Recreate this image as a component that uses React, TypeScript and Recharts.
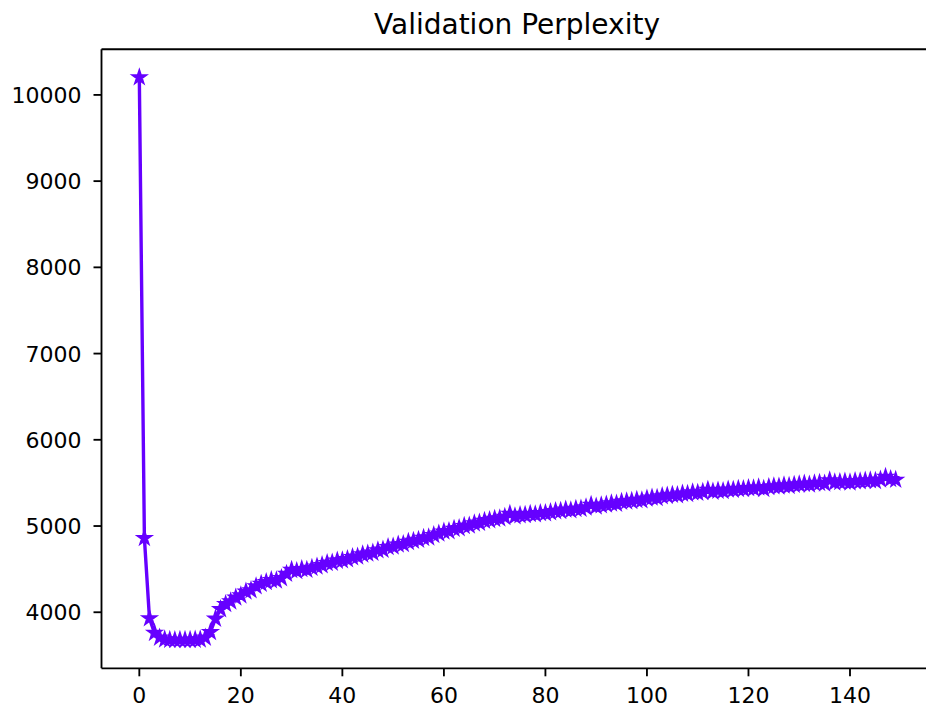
import React from 'react';
import { LineChart, Line, XAxis, YAxis, ReferenceLine } from 'recharts';

const perplexity: number[] = [
  10204, 4860, 3930, 3760, 3705, 3685, 3680, 3677, 3680, 3678,
  3679, 3681, 3684, 3705, 3770, 3925, 4035, 4095, 4125, 4170,
  4195, 4240, 4255, 4300, 4330, 4350, 4372, 4368, 4395, 4445,
  4490, 4478, 4500, 4492, 4515, 4530, 4545, 4570, 4575, 4598,
  4602, 4615, 4638, 4645, 4670, 4680, 4690, 4718, 4725, 4755,
  4762, 4785, 4790, 4815, 4828, 4840, 4862, 4868, 4895, 4912,
  4935, 4940, 4968, 4975, 5000, 5005, 5030, 5038, 5060, 5068,
  5082, 5088, 5105, 5140, 5112, 5125, 5128, 5140, 5135, 5150,
  5148, 5160, 5172, 5175, 5190, 5182, 5198, 5200, 5215, 5245,
  5225, 5240, 5248, 5262, 5258, 5280, 5285, 5290, 5302, 5298,
  5318, 5330, 5325, 5345, 5352, 5362, 5358, 5375, 5372, 5390,
  5385, 5395, 5420, 5398, 5410, 5405, 5422, 5420, 5430, 5428,
  5440, 5435, 5448, 5430, 5452, 5460, 5458, 5470, 5465, 5478,
  5482, 5490, 5480, 5495, 5500, 5492, 5530, 5505, 5510, 5515,
  5505, 5520, 5518, 5525, 5530, 5522, 5538, 5570, 5545, 5535,
];

const xTicks = [0, 20, 40, 60, 80, 100, 120, 140];
const yTicks = [4000, 5000, 6000, 7000, 8000, 9000, 10000];
const title = 'Validation Perplexity';

const data = perplexity.map((v, i) => ({ epoch: i, ppl: v }));

const COLOR = '#6600ff';
const FONT = '"DejaVu Sans", sans-serif';

const StarDot = (props: any) => {
  const { cx, cy, index } = props;
  if (cx == null || cy == null) return null;
  const R = 6.6;
  const r = R * 0.381966;
  const pts: string[] = [];
  for (let k = 0; k < 10; k++) {
    const a = (-90 + k * 36) * Math.PI / 180;
    const rr = k % 2 === 0 ? R : r;
    pts.push(`${cx + rr * Math.cos(a)},${cy + rr * Math.sin(a)}`);
  }
  return <polygon key={`s${index}`} points={pts.join(' ')} fill={COLOR} stroke={COLOR} strokeWidth={2.2} strokeLinejoin="miter" />;
};

const XTick = (props: any) => {
  const { x, y, payload } = props;
  return (
    <text x={x} y={y} dy={19} textAnchor="middle" fontFamily={FONT} fontSize={22} fill="#000">
      {payload.value}
    </text>
  );
};

const YTick = (props: any) => {
  const { x, y, payload } = props;
  return (
    <text x={x} y={y} dy={8} textAnchor="end" fontFamily={FONT} fontSize={22} fill="#000">
      {payload.value}
    </text>
  );
};

export default function App() {
  return (
    <div style={{ position: 'absolute', left: 0, top: 0, width: 926, height: 706, overflow: 'hidden', background: '#fff' }}>
      <LineChart
        width={960}
        height={706}
        data={data}
        margin={{ top: 49.2, right: 26.5, bottom: 0, left: 0 }}
      >
        <XAxis
          dataKey="epoch"
          type="number"
          domain={[-7.45, 156.45]}
          ticks={xTicks}
          allowDataOverflow
          height={37.7}
          tickSize={8}
          tickMargin={8}
          axisLine={{ stroke: '#000', strokeWidth: 1.85 }}
          tickLine={{ stroke: '#000', strokeWidth: 1.85 }}
          tick={<XTick />}
          interval={0}
        />
        <YAxis
          type="number"
          domain={[3350, 10530]}
          ticks={yTicks}
          allowDataOverflow
          width={101.5}
          tickSize={8}
          tickMargin={12}
          axisLine={{ stroke: '#000', strokeWidth: 1.85 }}
          tickLine={{ stroke: '#000', strokeWidth: 1.85 }}
          tick={<YTick />}
          interval={0}
        />
        <ReferenceLine y={10530} stroke="#000" strokeWidth={1.85} />
        <Line
          type="linear"
          dataKey="ppl"
          stroke={COLOR}
          strokeWidth={3.4}
          dot={<StarDot />}
          activeDot={false}
          isAnimationActive={false}
        />
      </LineChart>
      <svg width={926} height={60} style={{ position: 'absolute', left: 0, top: 0, pointerEvents: 'none' }}>
        <text x={517} y={33.5} textAnchor="middle" fontFamily={FONT} fontSize={28} fill="#000">
          {title}
        </text>
      </svg>
    </div>
  );
}
